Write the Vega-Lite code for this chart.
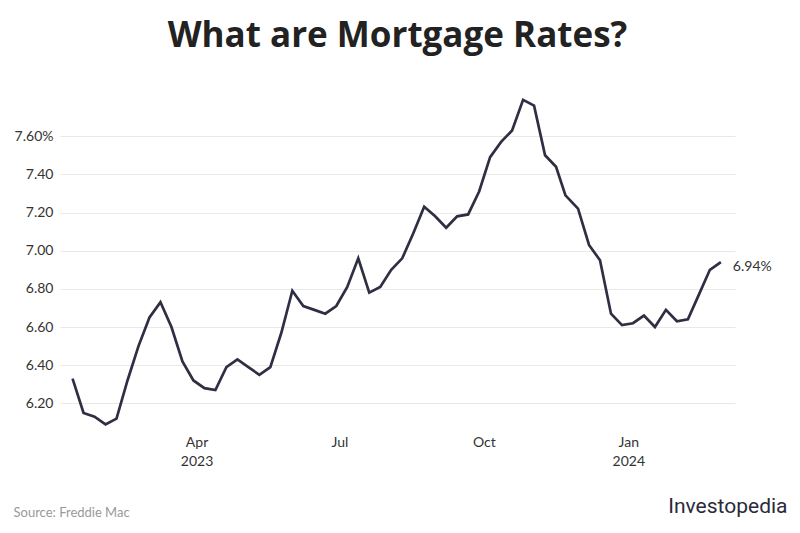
{
  "$schema": "https://vega.github.io/schema/vega-lite/v6.json",
  "width": 675,
  "height": 334,
  "autosize": {"type": "none"},
  "padding": {"left": 60, "top": 98, "right": 65, "bottom": 101},
  "background": "white",
  "config": {"view": {"stroke": null}},
  "title": {
    "text": "What are Mortgage Rates?",
    "font": "Open Sans",
    "fontSize": 35,
    "fontWeight": "bold",
    "color": "#222222",
    "anchor": "middle",
    "baseline": "alphabetic",
    "offset": 13
  },
  "data": {
    "values": [
      {"date": "2023-01-12", "rate": 6.33},
      {"date": "2023-01-19", "rate": 6.15},
      {"date": "2023-01-26", "rate": 6.13},
      {"date": "2023-02-02", "rate": 6.09},
      {"date": "2023-02-09", "rate": 6.12},
      {"date": "2023-02-16", "rate": 6.32},
      {"date": "2023-02-23", "rate": 6.50},
      {"date": "2023-03-02", "rate": 6.65},
      {"date": "2023-03-09", "rate": 6.73},
      {"date": "2023-03-16", "rate": 6.60},
      {"date": "2023-03-23", "rate": 6.42},
      {"date": "2023-03-30", "rate": 6.32},
      {"date": "2023-04-06", "rate": 6.28},
      {"date": "2023-04-13", "rate": 6.27},
      {"date": "2023-04-20", "rate": 6.39},
      {"date": "2023-04-27", "rate": 6.43},
      {"date": "2023-05-04", "rate": 6.39},
      {"date": "2023-05-11", "rate": 6.35},
      {"date": "2023-05-18", "rate": 6.39},
      {"date": "2023-05-25", "rate": 6.57},
      {"date": "2023-06-01", "rate": 6.79},
      {"date": "2023-06-08", "rate": 6.71},
      {"date": "2023-06-15", "rate": 6.69},
      {"date": "2023-06-22", "rate": 6.67},
      {"date": "2023-06-29", "rate": 6.71},
      {"date": "2023-07-06", "rate": 6.81},
      {"date": "2023-07-13", "rate": 6.96},
      {"date": "2023-07-20", "rate": 6.78},
      {"date": "2023-07-27", "rate": 6.81},
      {"date": "2023-08-03", "rate": 6.90},
      {"date": "2023-08-10", "rate": 6.96},
      {"date": "2023-08-17", "rate": 7.09},
      {"date": "2023-08-24", "rate": 7.23},
      {"date": "2023-08-31", "rate": 7.18},
      {"date": "2023-09-07", "rate": 7.12},
      {"date": "2023-09-14", "rate": 7.18},
      {"date": "2023-09-21", "rate": 7.19},
      {"date": "2023-09-28", "rate": 7.31},
      {"date": "2023-10-05", "rate": 7.49},
      {"date": "2023-10-12", "rate": 7.57},
      {"date": "2023-10-19", "rate": 7.63},
      {"date": "2023-10-26", "rate": 7.79},
      {"date": "2023-11-02", "rate": 7.76},
      {"date": "2023-11-09", "rate": 7.50},
      {"date": "2023-11-16", "rate": 7.44},
      {"date": "2023-11-22", "rate": 7.29},
      {"date": "2023-11-30", "rate": 7.22},
      {"date": "2023-12-07", "rate": 7.03},
      {"date": "2023-12-14", "rate": 6.95},
      {"date": "2023-12-21", "rate": 6.67},
      {"date": "2023-12-28", "rate": 6.61},
      {"date": "2024-01-04", "rate": 6.62},
      {"date": "2024-01-11", "rate": 6.66},
      {"date": "2024-01-18", "rate": 6.60},
      {"date": "2024-01-25", "rate": 6.69},
      {"date": "2024-02-01", "rate": 6.63},
      {"date": "2024-02-08", "rate": 6.64},
      {"date": "2024-02-15", "rate": 6.77},
      {"date": "2024-02-22", "rate": 6.90},
      {"date": "2024-02-29", "rate": 6.94}
    ]
  },
  "encoding": {
    "x": {
      "field": "date",
      "type": "temporal",
      "scale": {
        "type": "utc",
        "domain": [
          {"year": 2023, "month": 1, "date": 4, "utc": true},
          {"year": 2024, "month": 3, "date": 9, "utc": true}
        ]
      },
      "axis": {
        "values": [
          {"year": 2023, "month": 4, "date": 1, "utc": true},
          {"year": 2023, "month": 7, "date": 1, "utc": true},
          {"year": 2023, "month": 10, "date": 1, "utc": true},
          {"year": 2024, "month": 1, "date": 1, "utc": true}
        ],
        "labelExpr": "[utcFormat(datum.value, '%b'), (utcmonth(datum.value) == 0 || (utcyear(datum.value) == 2023 && utcmonth(datum.value) == 3)) ? utcFormat(datum.value, '%Y') : '']",
        "grid": false,
        "domain": false,
        "ticks": false,
        "labelFont": "Lato",
        "labelFontSize": 14,
        "labelColor": "#333333",
        "labelPadding": 3,
        "labelLineHeight": 19,
        "labelBaseline": "top",
        "title": "Source: Freddie Mac",
        "titleFont": "Lato",
        "titleFontSize": 13,
        "titleFontWeight": "normal",
        "titleColor": "#999999",
        "titleAnchor": "start",
        "titleAlign": "left",
        "titleBaseline": "alphabetic",
        "titleX": -47,
        "titleY": 84
      }
    },
    "y": {
      "field": "rate",
      "type": "quantitative",
      "scale": {"domain": [6.05, 7.8], "nice": false, "zero": false},
      "axis": {
        "values": [6.2, 6.4, 6.6, 6.8, 7.0, 7.2, 7.4, 7.6],
        "labelExpr": "datum.value >= 7.59 ? format(datum.value, '.2f') + '%' : format(datum.value, '.2f')",
        "domain": false,
        "ticks": false,
        "grid": true,
        "gridColor": "#e9e9e9",
        "gridWidth": 1,
        "labelFont": "Lato",
        "labelFontSize": 14,
        "labelColor": "#333333",
        "labelPadding": 7,
        "title": "Investopedia",
        "titleFont": "Roboto",
        "titleFontSize": 21,
        "titleFontWeight": "normal",
        "titleColor": "#2a2a3c",
        "titleAngle": 0,
        "titleAlign": "right",
        "titleBaseline": "alphabetic",
        "titleX": 727,
        "titleY": 414
      }
    }
  },
  "layer": [
    {
      "mark": {"type": "line", "color": "#2f2f44", "strokeWidth": 2.7, "strokeJoin": "miter"}
    },
    {
      "transform": [
        {"filter": "utcyear(datum.date) == 2024 && utcmonth(datum.date) == 1 && utcdate(datum.date) == 29"},
        {"calculate": "format(datum.rate, '.2f') + '%'", "as": "label"}
      ],
      "mark": {"type": "text", "align": "left", "baseline": "middle", "dx": 12, "dy": 5, "font": "Lato", "fontSize": 14, "color": "#333333"},
      "encoding": {"text": {"field": "label"}}
    }
  ]
}
